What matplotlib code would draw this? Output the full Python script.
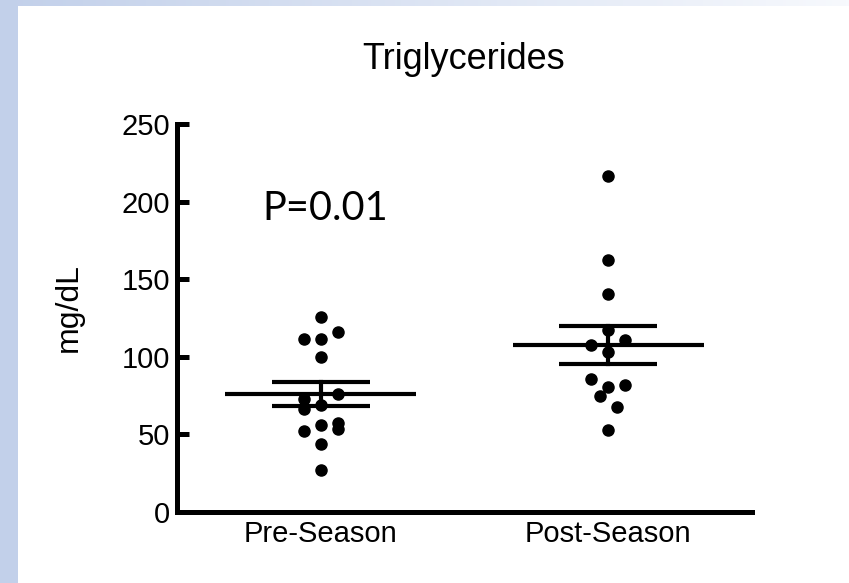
import numpy as np
import matplotlib.pyplot as plt
from matplotlib.patches import Rectangle
from matplotlib.colors import LinearSegmentedColormap

# values (mg/dL)
groups = ["Pre-Season", "Post-Season"]
pre_vals = [125.8, 116.2, 111.3, 111.3, 99.7, 75.8, 72.6, 68.8, 66.2,
            57.2, 56.1, 53.3, 52.2, 43.8, 27.1]
post_vals = [216.7, 162.4, 140.5, 117.3, 110.8, 107.6, 103.3, 85.7,
             81.6, 80.7, 74.7, 67.8, 52.8]
# swarm column of each point (-1 left, 0 centre, +1 right)
pre_slot = [0, 1, -1, 0, 0, 1, -1, 0, -1, 1, 0, 1, -1, 0, 0]
post_slot = [0, 0, 0, 0, 1, -1, 0, -1, 1, 0, -0.5, 0.5, 0]
yticks = [0, 50, 100, 150, 200, 250]
p_text = "P=0.01"

plt.rcParams['font.family'] = ['Liberation Sans', 'DejaVu Sans']

fig = plt.figure(figsize=(8.49, 5.83), dpi=100)
fig.patch.set_facecolor('white')

# slide background: blue band on the left, fading band on top
fig.add_artist(Rectangle((0, 0), 18 / 849, 1, transform=fig.transFigure,
                         color='#c2d0ea', lw=0, zorder=0))
strip = fig.add_axes([0, 1 - 6 / 583, 1, 6 / 583], zorder=0)
grad = np.linspace(0, 1, 256)[None, :]
cmap = LinearSegmentedColormap.from_list('band', ['#c2d0ea', '#f7f9fd'])
strip.imshow(grad, aspect='auto', cmap=cmap, extent=[0, 1, 0, 1])
strip.axis('off')

ax = fig.add_axes([177 / 849, 71 / 583, 575 / 849, 388 / 583])
ax.set_facecolor('none')

slot_w = 0.059
for i, (vals, slots) in enumerate([(pre_vals, pre_slot), (post_vals, post_slot)]):
    vals = np.array(vals)
    xs = i + np.array(slots) * slot_w
    ax.plot(xs, vals, 'o', color='black', markersize=8, zorder=3, clip_on=False)
    m = vals.mean()
    sem = vals.std(ddof=1) / np.sqrt(len(vals))
    ax.plot([i - 0.332, i + 0.332], [m, m], color='black', lw=3, zorder=4,
            solid_capstyle='butt')
    for y in (m - sem, m + sem):
        ax.plot([i - 0.17, i + 0.17], [y, y], color='black', lw=3, zorder=4,
                solid_capstyle='butt')
    ax.plot([i, i], [m - sem, m + sem], color='black', lw=3, zorder=4)

ax.set_xlim(-0.5, 1.5)
ax.set_ylim(0, 250)
ax.set_xticks([0, 1])
ax.set_xticklabels(groups, fontsize=21)
ax.set_yticks(yticks)
ax.set_yticklabels([str(t) for t in yticks], fontsize=21)
ax.tick_params(axis='y', direction='in', length=8.5, width=3.6, pad=5)
ax.tick_params(axis='x', length=0, pad=6)
for s in ('top', 'right'):
    ax.spines[s].set_visible(False)
for s in ('left', 'bottom'):
    ax.spines[s].set_linewidth(3.6)
    ax.spines[s].set_capstyle('projecting')

ax.text(0.017, 188, p_text, fontsize=28.5, family=['Lato', 'DejaVu Sans'],
        ha='center', va='baseline')

fig.text(464 / 849, 1 - 69 / 583, "Triglycerides", fontsize=26,
         ha='center', va='baseline')
fig.text(69 / 849, 1 - 307 / 583, "mg/dL", fontsize=23, rotation=90,
         ha='center', va='center')

fig.savefig('out.png', dpi=100)
